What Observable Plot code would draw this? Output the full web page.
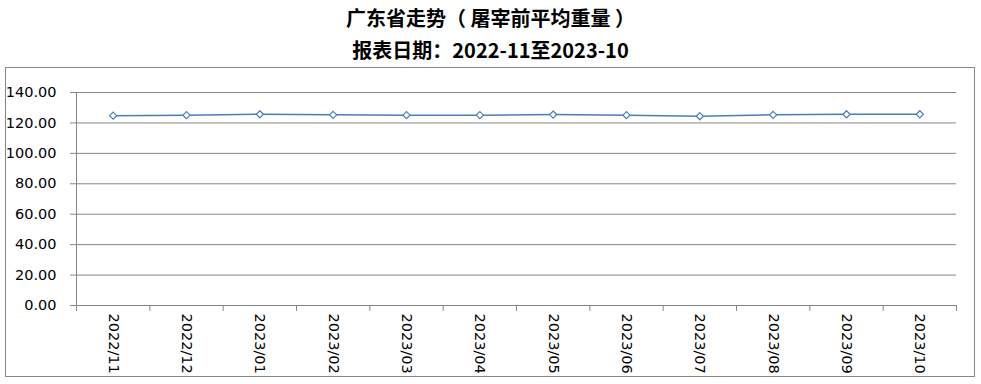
<!DOCTYPE html>
<html>
<head>
<meta charset="utf-8">
<script src="https://cdn.jsdelivr.net/npm/d3@7"></script>
<script src="https://cdn.jsdelivr.net/npm/@observablehq/plot@0.6"></script>
<style>
  html, body { margin: 0; padding: 0; background: #fff; }
  body { width: 981px; height: 384px; position: relative; overflow: hidden; }
  .title {
    position: absolute; left: 0; width: 981px; text-align: center;
    font-family: "Noto Sans CJK SC", sans-serif; font-weight: bold; color: #000;
    font-size: 20px; line-height: 24px; white-space: pre;
  }
  #t1 { top: 6px; }
  #t2 { top: 38px; }
  #box {
    position: absolute; left: 5px; top: 67px; width: 968px; height: 308px;
    border: 1px solid #868686;
  }
  #box svg { display: block; }
</style>
</head>
<body>
<div class="title" id="t1">广东省走势（ 屠宰前平均重量 ）</div>
<div class="title" id="t2">报表日期：2022-11至2023-10</div>
<div id="box"></div>
<script>
// Monthly average pre-slaughter weight, Guangdong
const months = ["2022/11", "2022/12", "2023/01", "2023/02", "2023/03", "2023/04",
                "2023/05", "2023/06", "2023/07", "2023/08", "2023/09", "2023/10"];
const weights = [124.8, 125.1, 125.7, 125.3, 125.1, 125.1,
                 125.5, 125.1, 124.4, 125.3, 125.7, 125.7];
const yTicks = [0, 20, 40, 60, 80, 100, 120, 140];

const data = months.map((m, i) => ({month: m, idx: i + 0.5, weight: weights[i]}));
const grey = "#868686";
const blue = "#4a7ebb";

const chart = Plot.plot({
  width: 968,
  height: 308,
  marginLeft: 70,
  marginRight: 18,
  marginTop: 24,
  marginBottom: 71,
  style: {fontFamily: "DejaVu Sans, sans-serif", background: "#fff", color: "#000"},
  x: {type: "linear", domain: [0, months.length]},
  y: {domain: [0, 140]},
  marks: [
    Plot.gridY(yTicks, {stroke: grey, strokeOpacity: 1}),
    Plot.ruleX([0], {y1: 0, y2: 140, stroke: grey}),
    Plot.axisY(yTicks, {
      tickSize: 6, tickPadding: 14, stroke: grey,
      tickFormat: d3.format(".2f"), fontSize: 14.5, fill: "#000", label: null
    }),
    // month boundary ticks
    Plot.axisX(d3.range(months.length + 1), {
      tickSize: 6, stroke: grey, tickFormat: () => "", label: null
    }),
    // month labels, centred in each slot and turned upright
    Plot.axisX(data.map(d => d.idx), {
      tickSize: 0, tickPadding: 8, tickRotate: 90, fontSize: 14.5, fill: "#000",
      textAnchor: "start",
      tickFormat: v => months[Math.round(v - 0.5)], label: null
    }),
    Plot.line(data, {x: "idx", y: "weight", stroke: blue, strokeWidth: 1.5}),
    Plot.dot(data, {x: "idx", y: "weight", symbol: "diamond2", r: 3.2,
      stroke: blue, strokeWidth: 1.2, fill: "#fff"})
  ]
});
document.getElementById("box").appendChild(chart);
</script>
</body>
</html>
